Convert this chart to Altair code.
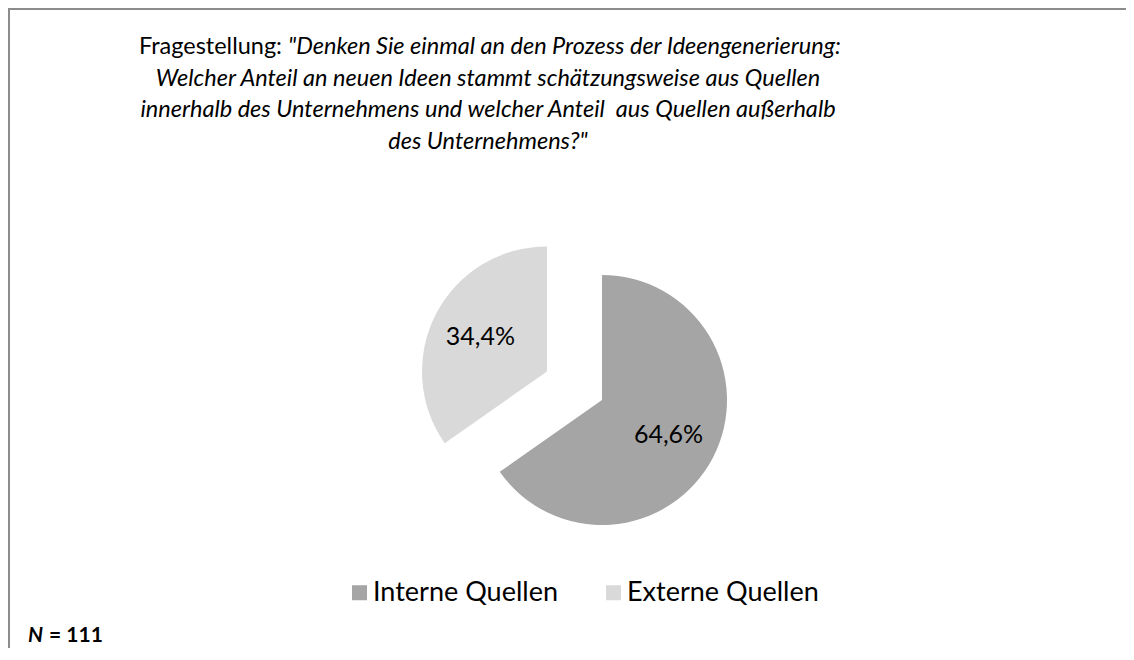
import altair as alt
import pandas as pd

# ---- data ----
categories = ["Interne Quellen", "Externe Quellen"]
shares = [64.6, 34.4]
share_labels = ["64,6%", "34,4%"]
exploded = [0, 1]
slice_order = [0, 1]
slice_colors = ["#a5a5a5", "#d9d9d9"]

title_prefix = "Fragestellung:"
title_lines = [
    "\"Denken Sie einmal an den Prozess der Ideengenerierung:",
    "Welcher Anteil an neuen Ideen stammt schätzungsweise aus Quellen",
    "innerhalb des Unternehmens und welcher Anteil\u00a0 aus Quellen außerhalb",
    "des Unternehmens?\"",
]
note_n = "N"
note_rest = "= 111"

# ---- layout ----
W, H = 1118, 640
CX, CY = 594, 392
R = 125
EXPLODE = 62
LABEL_R = 75
FONT = "Lato"
TITLE_SIZE = 23.5
TITLE_X = 480
TITLE_Y0 = 46
TITLE_DY = 31.7

df = pd.DataFrame({
    "cat": categories,
    "share": shares,
    "label": share_labels,
    "exploded": exploded,
    "order": slice_order,
})

base = (
    alt.Chart(df)
    .transform_joinaggregate(total="sum(share)")
    .transform_window(cum="sum(share)", sort=[alt.SortField("order", order="ascending")])
    .transform_calculate(t0="2*PI*(datum.cum - datum.share)/datum.total")
    .transform_calculate(t1="2*PI*datum.cum/datum.total")
    .transform_calculate(mid="(datum.t0 + datum.t1)/2")
    .transform_calculate(cx=f"{CX} + datum.exploded*{EXPLODE}*sin(datum.mid)")
    .transform_calculate(cy=f"{CY} - datum.exploded*{EXPLODE}*cos(datum.mid)")
    .transform_calculate(lx=f"datum.cx + {LABEL_R}*sin(datum.mid)")
    .transform_calculate(ly=f"datum.cy - {LABEL_R}*cos(datum.mid)")
)

arcs = base.mark_arc(outerRadius=R).encode(
    theta=alt.Theta("t0:Q", scale=None, stack=False),
    theta2="t1:Q",
    x=alt.X("cx:Q", scale=None, axis=None),
    y=alt.Y("cy:Q", scale=None, axis=None),
    color=alt.Color(
        "cat:N",
        sort=categories,
        scale=alt.Scale(domain=categories, range=slice_colors),
        legend=alt.Legend(
            title=None,
            orient="none",
            legendX=338,
            legendY=571,
            direction="horizontal",
            symbolType="square",
            symbolSize=225,
            symbolStrokeWidth=0,
            labelFont=FONT,
            labelFontSize=27,
            labelColor="black",
            labelOffset=0,
            labelLimit=400,
            columnPadding=42,
            padding=0,
        ),
    ),
)

labels = base.mark_text(font=FONT, fontSize=25, color="black").encode(
    x=alt.X("lx:Q", scale=None, axis=None),
    y=alt.Y("ly:Q", scale=None, axis=None),
    text="label:N",
)

prefix = alt.Chart(alt.Data(values=[{"t": title_prefix}])).mark_text(
    font=FONT, fontSize=TITLE_SIZE, align="right", baseline="alphabetic", color="black"
).encode(x=alt.value(274), y=alt.value(TITLE_Y0), text="t:N")

line1 = alt.Chart(alt.Data(values=[{"t": title_lines[0]}])).mark_text(
    font=FONT, fontSize=TITLE_SIZE, fontStyle="italic", align="left", baseline="alphabetic", color="black"
).encode(x=alt.value(280), y=alt.value(TITLE_Y0), text="t:N")

rest_df = pd.DataFrame({"t": title_lines[1:], "i": list(range(1, len(title_lines)))})
rest = (
    alt.Chart(rest_df)
    .transform_calculate(yy=f"{TITLE_Y0} + datum.i*{TITLE_DY}")
    .mark_text(font=FONT, fontSize=TITLE_SIZE, fontStyle="italic", align="center", baseline="alphabetic", color="black")
    .encode(x=alt.value(TITLE_X), y=alt.Y("yy:Q", scale=None, axis=None), text="t:N")
)

n1 = alt.Chart(alt.Data(values=[{"t": note_n}])).mark_text(
    font=FONT, fontSize=21, fontWeight="bold", fontStyle="italic", align="left", baseline="alphabetic", color="black"
).encode(x=alt.value(20), y=alt.value(634), text="t:N")
n2 = alt.Chart(alt.Data(values=[{"t": note_rest}])).mark_text(
    font=FONT, fontSize=21, fontWeight="bold", align="left", baseline="alphabetic", color="black"
).encode(x=alt.value(41), y=alt.value(634), text="t:N")

border_left = alt.Chart(alt.Data(values=[{"a": 1}])).mark_rule(color="#8c8c8c", strokeWidth=2).encode(
    x=alt.value(1), y=alt.value(0), y2=alt.value(H)
)
border_top = alt.Chart(alt.Data(values=[{"a": 1}])).mark_rule(color="#8c8c8c", strokeWidth=2).encode(
    x=alt.value(0), x2=alt.value(W), y=alt.value(1)
)

chart = (
    alt.layer(border_left, border_top, arcs, labels, prefix, line1, rest, n1, n2)
    .properties(width=W, height=H, autosize="none", padding=0, background="white")
    .configure_view(strokeOpacity=0)
)

chart.save("out.html", embed_options={"renderer": "svg", "actions": False})
